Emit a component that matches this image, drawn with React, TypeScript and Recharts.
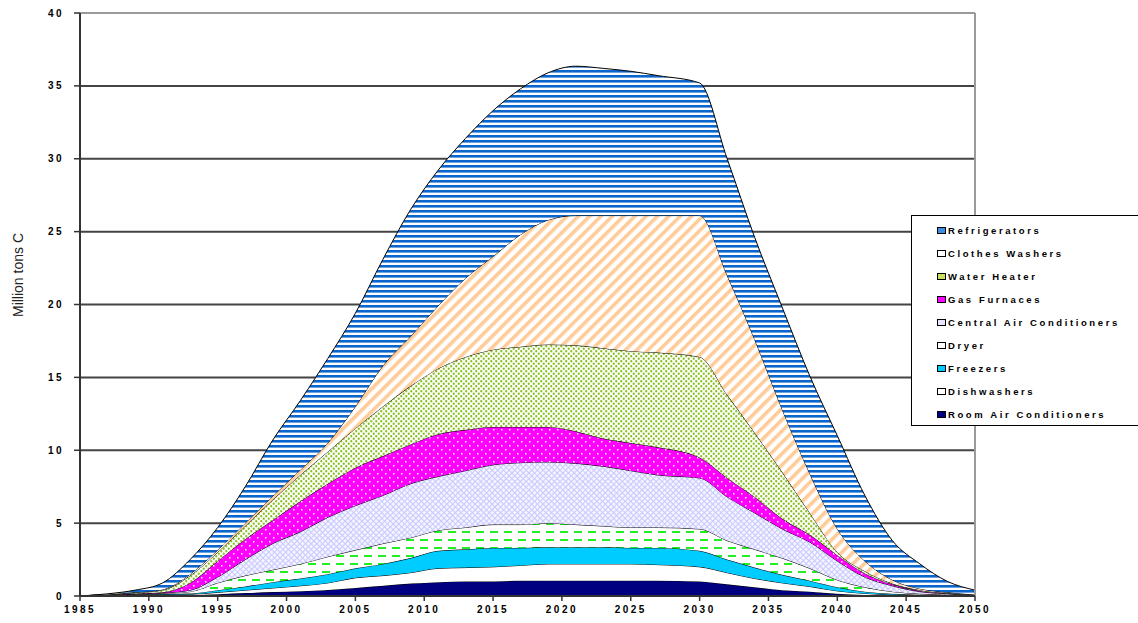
import { Area, AreaChart, CartesianGrid, Legend, ReferenceLine, XAxis, YAxis } from "recharts";

const years = [
  1985, 1987, 1989, 1991, 1993, 1995, 1997, 1999, 2001, 2003, 2005, 2007, 2009, 2011, 2013, 2015, 2017,
  2019, 2021, 2023, 2025, 2027, 2030, 2032, 2034, 2036, 2038, 2040, 2042, 2044, 2046, 2048, 2050,
];

const roomAC = [
  0, 0.02, 0.03, 0.04, 0.06, 0.12, 0.2, 0.27, 0.33, 0.42, 0.55, 0.7, 0.85, 0.95, 1.0, 1.0, 1.05, 1.05,
  1.05, 1.05, 1.05, 1.05, 1.0, 0.8, 0.6, 0.4, 0.3, 0.15, 0.07, 0.03, 0.02, 0.01, 0,
];
const dishwashers = [
  0, 0.02, 0.04, 0.06, 0.06, 0.13, 0.2, 0.28, 0.37, 0.48, 0.7, 0.7, 0.75, 0.95, 0.95, 1.0, 1.05, 1.15,
  1.15, 1.15, 1.15, 1.1, 1.0, 0.8, 0.6, 0.5, 0.35, 0.2, 0.11, 0.05, 0.03, 0.02, 0.01,
];
const freezers = [
  0, 0.01, 0.02, 0.04, 0.06, 0.15, 0.25, 0.4, 0.5, 0.6, 0.65, 0.8, 1.0, 1.2, 1.25, 1.3, 1.2, 1.15, 1.15,
  1.15, 1.1, 1.15, 1.1, 0.9, 0.75, 0.55, 0.4, 0.25, 0.12, 0.07, 0.03, 0.02, 0.01,
];
const dryer = [
  0, 0.01, 0.02, 0.04, 0.12, 0.5, 0.75, 0.85, 1.0, 1.2, 1.25, 1.4, 1.4, 1.4, 1.5, 1.6, 1.6, 1.65, 1.55,
  1.45, 1.4, 1.4, 1.5, 1.3, 1.25, 1.15, 0.85, 0.5, 0.3, 0.15, 0.07, 0.03, 0.02,
];
const centralAC = [
  0, 0.01, 0.02, 0.03, 0.1, 0.4, 1.1, 1.8, 2.2, 2.7, 3.05, 3.3, 3.7, 3.7, 3.9, 4.1, 4.25, 4.2, 4.2, 4.1,
  3.9, 3.6, 3.5, 3.0, 2.5, 2.0, 1.8, 1.3, 0.7, 0.4, 0.15, 0.07, 0.02,
];
const gasFurnaces = [
  0, 0.01, 0.03, 0.04, 0.5, 1.1, 1.4, 1.6, 2.1, 2.3, 2.6, 2.7, 2.7, 2.9, 2.8, 2.6, 2.45, 2.4, 2.2, 1.9,
  1.9, 1.9, 1.4, 1.3, 1.1, 0.7, 0.5, 0.4, 0.25, 0.1, 0.05, 0.03, 0.01,
];
const waterHeater = [
  0, 0.02, 0.06, 0.15, 0.5, 0.6, 0.9, 1.4, 1.8, 2.2, 2.7, 3.4, 4.0, 4.5, 5.0, 5.3, 5.5, 5.65, 5.9, 6.2,
  6.3, 6.5, 6.9, 5.7, 4.4, 3.2, 1.5, 0.2, 0.15, 0.05, 0.05, 0.02, 0.01,
];
const clothesWashers = [
  0, 0.01, 0.03, 0.05, 0.1, 0.15, 0.2, 0.25, 0.35, 0.6, 1.5, 2.8, 3.4, 4.3, 5.4, 6.4, 7.7, 8.55, 8.9, 9.1,
  9.3, 9.4, 9.7, 8.2, 6.4, 4.3, 2.7, 1.6, 0.7, 0.25, 0.1, 0.05, 0.02,
];
const refrigerators = [
  0, 0.04, 0.15, 0.45, 1.0, 1.55, 2.5, 3.85, 4.75, 5.8, 6.4, 7.3, 8.7, 9.3, 9.6, 10.0, 10.0, 10.1, 10.25,
  10.1, 9.9, 9.6, 9.1, 8.0, 7.0, 7.0, 6.7, 6.4, 4.5, 2.7, 1.7, 0.75, 0.3,
];

const xTicks = [1985, 1990, 1995, 2000, 2005, 2010, 2015, 2020, 2025, 2030, 2035, 2040, 2045, 2050];
const yTicks = [0, 5, 10, 15, 20, 25, 30, 35, 40];
const gridValues = [5, 10, 15, 20, 25, 30, 35];

// bottom of the stack first
const series = [
  { key: "roomAC", name: "Room Air Conditioners", values: roomAC, fill: "#000080", icon: "#000080" },
  { key: "dishwashers", name: "Dishwashers", values: dishwashers, fill: "#ffffff", icon: "#ffffff" },
  { key: "freezers", name: "Freezers", values: freezers, fill: "#00ccff", icon: "#00ccff" },
  { key: "dryer", name: "Dryer", values: dryer, fill: "url(#pDryer)", icon: "#ffffff" },
  { key: "centralAC", name: "Central Air Conditioners", values: centralAC, fill: "url(#pCac)", icon: "#e6e6ff" },
  { key: "gasFurnaces", name: "Gas Furnaces", values: gasFurnaces, fill: "url(#pGas)", icon: "#ff00ff" },
  { key: "waterHeater", name: "Water Heater", values: waterHeater, fill: "url(#pWater)", icon: "#c8e060" },
  { key: "clothesWashers", name: "Clothes Washers", values: clothesWashers, fill: "url(#pClothes)", icon: "#ffffff" },
  { key: "refrigerators", name: "Refrigerators", values: refrigerators, fill: "url(#pRef)", icon: "#3c8ee0" },
];

const data = years.map((year, i) => {
  const row: Record<string, number> = { year };
  series.forEach((s) => {
    row[s.key] = s.values[i];
  });
  return row;
});

const tickStyle = {
  fontSize: 10,
  fontWeight: 700,
  fill: "#000",
  fontFamily: "Liberation Sans, Arial, sans-serif",
  letterSpacing: 2.5,
};

function LegendBox() {
  const items = [...series].reverse();
  return (
    <div
      style={{
        border: "1px solid #000",
        background: "#fff",
        boxSizing: "border-box",
        width: 240,
        height: 211,
        paddingTop: 3,
        paddingLeft: 25,
        fontFamily: "Liberation Sans, Arial, sans-serif",
      }}
    >
      {items.map((s) => (
        <div key={s.key} style={{ height: 23, display: "flex", alignItems: "center" }}>
          <span
            style={{
              display: "inline-block",
              width: 7,
              height: 5,
              border: "1px solid #000",
              background: s.icon,
              marginRight: 2,
            }}
          />
          <span style={{ fontSize: 9.5, fontWeight: 700, letterSpacing: 2.6, color: "#000", whiteSpace: "nowrap" }}>
            {s.name}
          </span>
        </div>
      ))}
    </div>
  );
}

export default function App() {
  return (
    <div style={{ position: "absolute", left: 0, top: 0, width: 1138, height: 623, overflow: "hidden", background: "#fff" }}>
      <AreaChart width={1138} height={623} data={data} margin={{ top: 13, right: 163, bottom: 0, left: 0 }}>
        <defs>
          <pattern id="pRef" width="8" height="5" patternUnits="userSpaceOnUse">
            <rect width="8" height="5" fill="#ffffff" />
            <rect width="8" height="2.6" fill="#0a66cc" />
          </pattern>
          <pattern id="pClothes" width="8" height="8" patternUnits="userSpaceOnUse" patternTransform="rotate(45)">
            <rect width="8" height="8" fill="#ffffff" />
            <rect width="3.6" height="8" fill="#ffcc99" />
          </pattern>
          <pattern id="pWater" width="5" height="5" patternUnits="userSpaceOnUse">
            <rect width="5" height="5" fill="#ffffff" />
            <circle cx="1.25" cy="1.25" r="1.15" fill="#88c020" />
            <circle cx="3.75" cy="3.75" r="1.15" fill="#88c020" />
          </pattern>
          <pattern id="pGas" width="8" height="8" patternUnits="userSpaceOnUse">
            <rect width="8" height="8" fill="#ff00ff" />
            <rect x="1" y="1" width="1.5" height="1.5" fill="#ffffff" />
            <rect x="5" y="5" width="1.5" height="1.5" fill="#ffffff" />
          </pattern>
          <pattern id="pCac" width="4" height="4" patternUnits="userSpaceOnUse" patternTransform="rotate(45)">
            <rect width="4" height="4" fill="#f4f4ff" />
            <rect width="1" height="4" fill="#c8c8ff" />
            <rect width="4" height="1" fill="#c8c8ff" />
          </pattern>
          <pattern id="pDryer" width="14" height="8" patternUnits="userSpaceOnUse">
            <rect width="14" height="8" fill="#ffffff" />
            <rect x="0" y="3" width="8" height="2" fill="#22ee22" />
          </pattern>
        </defs>
        <CartesianGrid horizontal vertical={false} horizontalValues={gridValues} stroke="#444" strokeWidth={2} />
        <XAxis
          dataKey="year"
          type="number"
          domain={[1985, 2050]}
          ticks={xTicks}
          interval={0}
          height={27}
          tick={tickStyle}
          tickSize={5}
          tickMargin={5}
          axisLine={{ stroke: "#333", strokeWidth: 2 }}
          tickLine={{ stroke: "#333", strokeWidth: 1.5 }}
        />
        <YAxis
          type="number"
          domain={[0, 40]}
          ticks={yTicks}
          interval={0}
          width={80}
          tick={tickStyle}
          tickSize={6}
          tickMargin={10}
          axisLine={{ stroke: "#333", strokeWidth: 2 }}
          tickLine={{ stroke: "#333", strokeWidth: 1.5 }}
          label={{
            value: "Million tons C",
            content: () => (
              <text
                x={18}
                y={275}
                transform="rotate(-90 18 275)"
                textAnchor="middle"
                dominantBaseline="central"
                fontSize={14}
                fontFamily="Liberation Sans, Arial, sans-serif"
                fill="#222"
              >
                Million tons C
              </text>
            ),
          }}
        />
        <ReferenceLine y={40} stroke="#9a9a9a" strokeWidth={2} />
        <ReferenceLine x={2050} stroke="#9a9a9a" strokeWidth={2} />
        {series.map((s) => (
          <Area
            key={s.key}
            dataKey={s.key}
            name={s.name}
            stackId="1"
            type="monotone"
            fill={s.fill}
            fillOpacity={1}
            stroke="#000"
            strokeWidth={1}
            isAnimationActive={false}
          />
        ))}
        <Legend
          layout="vertical"
          align="center"
          verticalAlign="middle"
          wrapperStyle={{ left: 911, top: 215, width: 240, height: 211 }}
          content={() => <LegendBox />}
        />
      </AreaChart>
    </div>
  );
}
